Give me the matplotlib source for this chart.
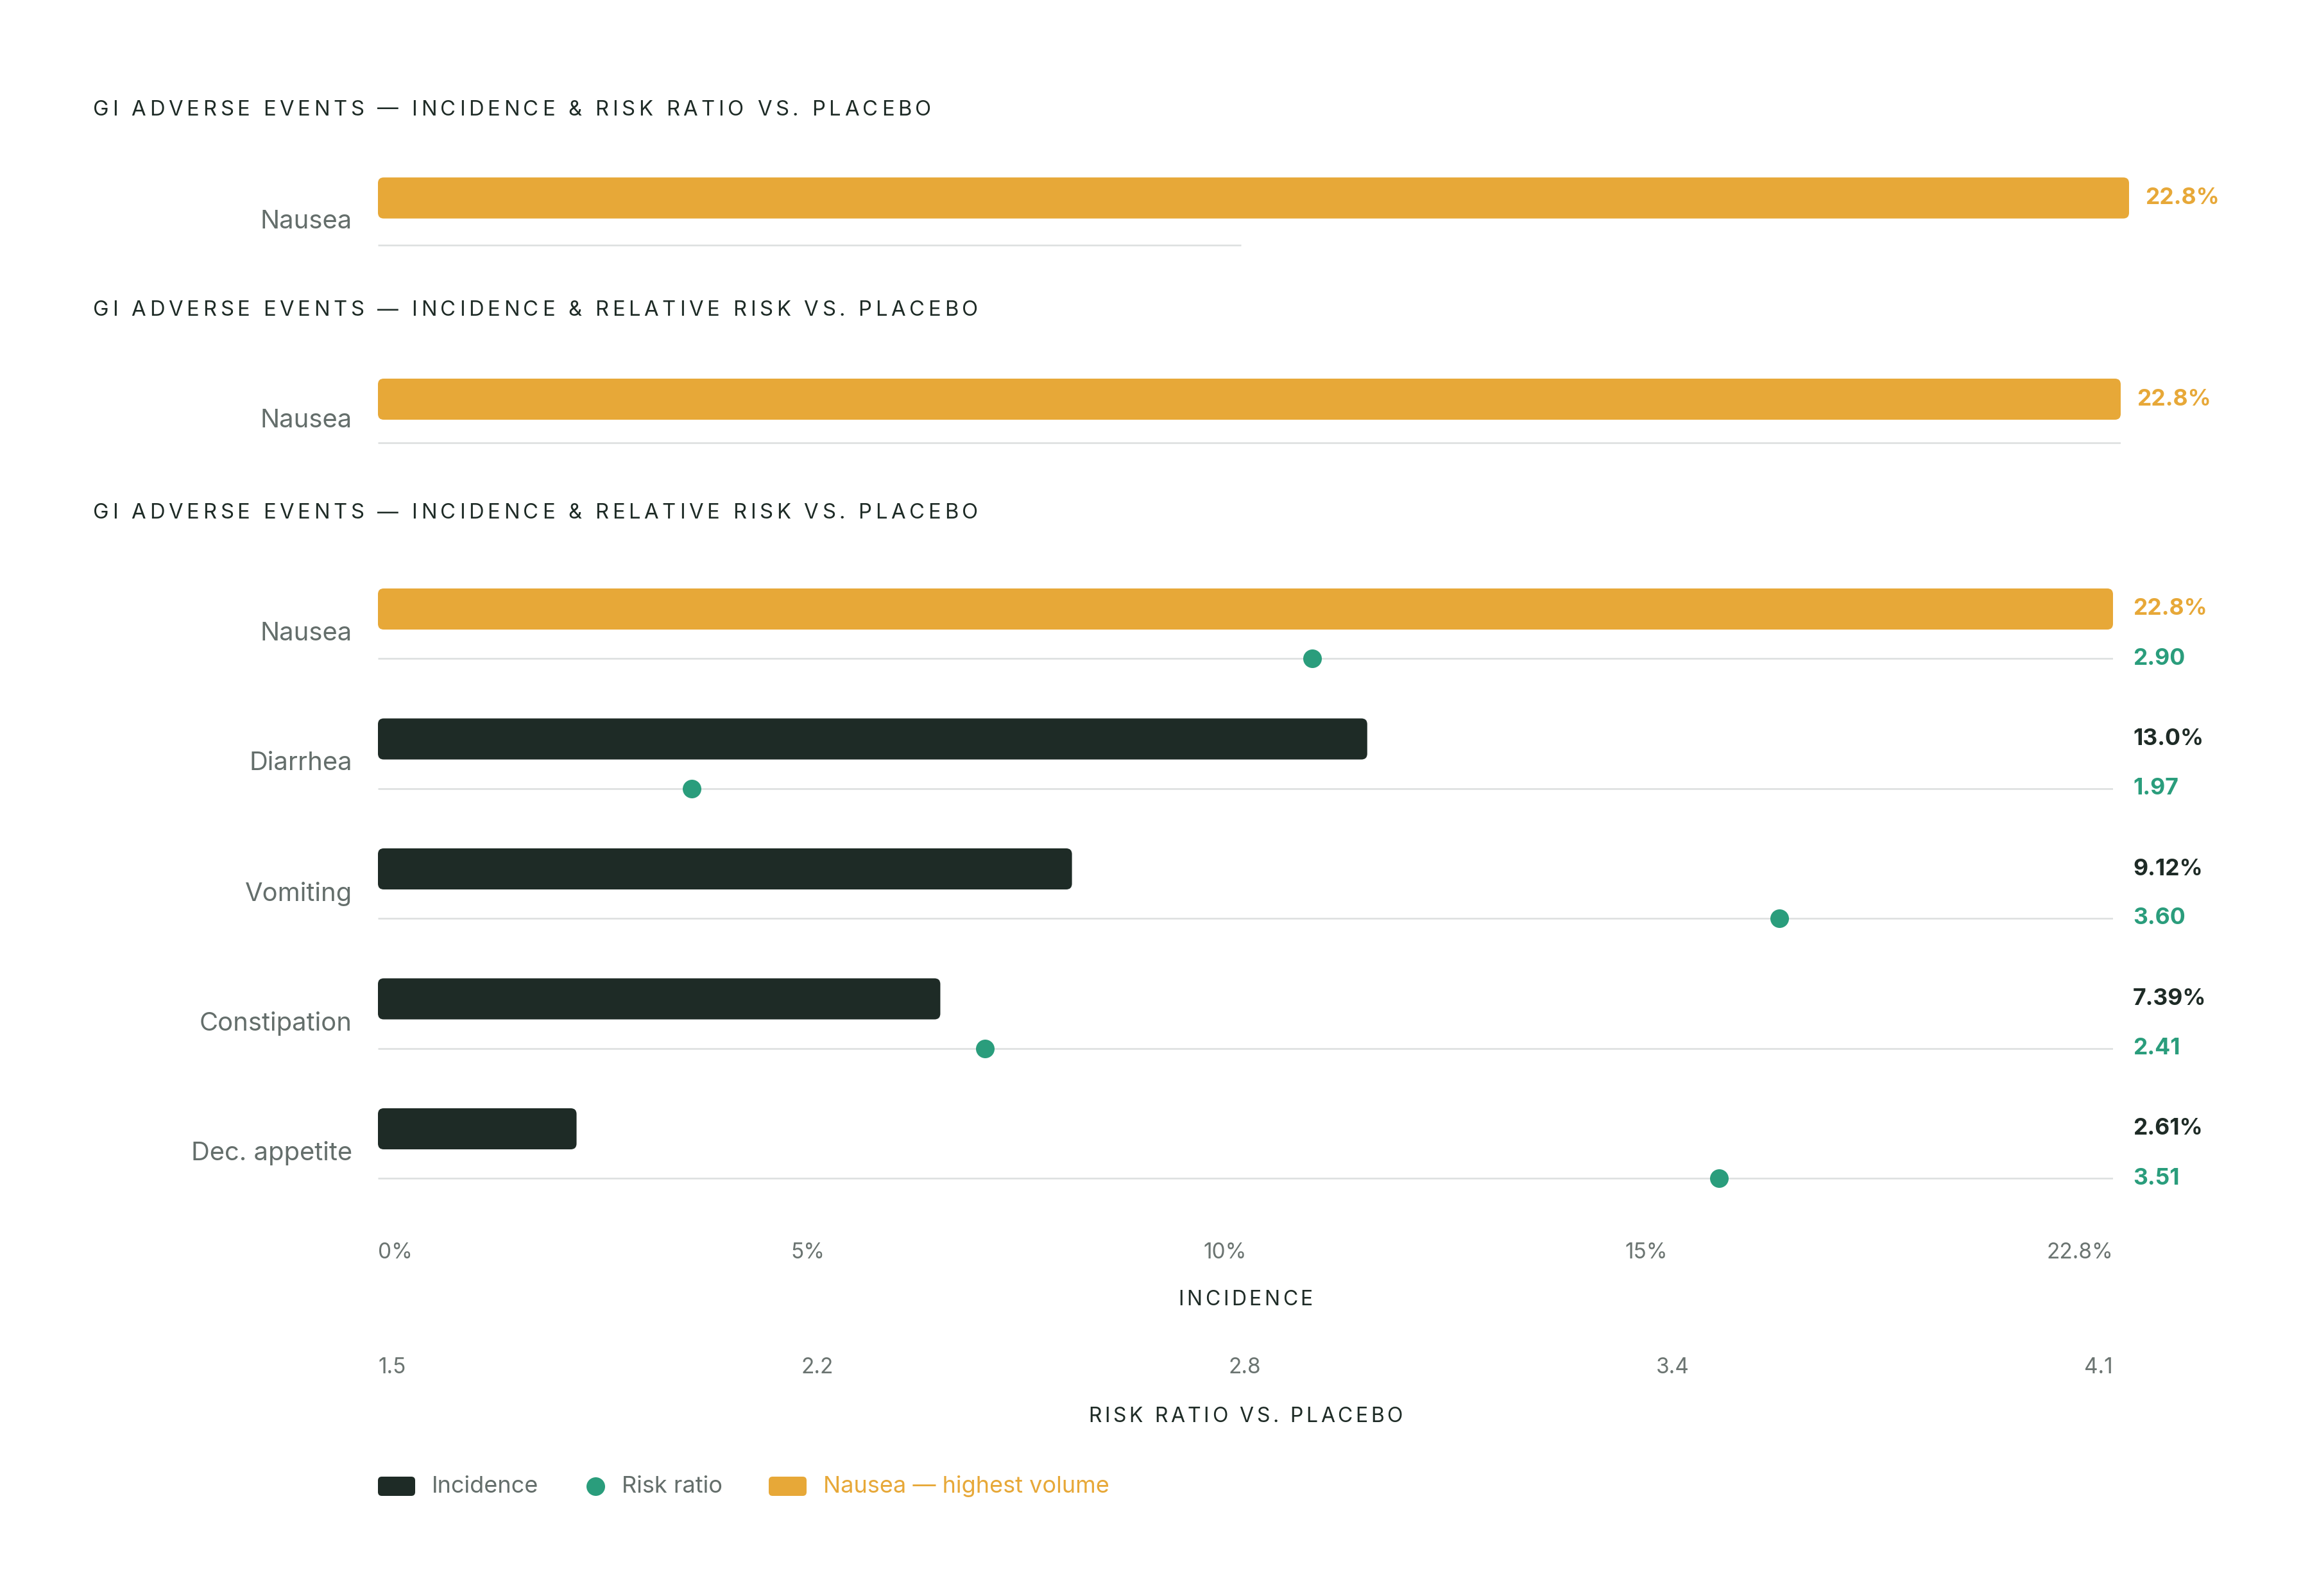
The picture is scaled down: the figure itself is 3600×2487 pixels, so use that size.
import matplotlib
matplotlib.use("Agg")
import matplotlib.pyplot as plt
from matplotlib.patches import FancyBboxPatch
from matplotlib.font_manager import FontProperties

# Données
EVENTS = ["Nausea", "Diarrhea", "Vomiting", "Constipation", "Dec. appetite"]
INCIDENCE = [22.8, 13.0, 9.12, 7.39, 2.61]   # %
RISK_RATIO = [2.90, 1.97, 3.60, 2.41, 3.51]  # vs. placebo
INC_MAX = 22.8
RR_MIN, RR_MAX = 1.5, 4.1
INC_TICK_LABELS = ["0%", "5%", "10%", "15%", "22.8%"]
RR_TICK_LABELS = ["1.5", "2.2", "2.8", "3.4", "4.1"]
TITLES = [
    "GI ADVERSE EVENTS — INCIDENCE & RISK RATIO VS. PLACEBO",
    "GI ADVERSE EVENTS — INCIDENCE & RELATIVE RISK VS. PLACEBO",
    "GI ADVERSE EVENTS — INCIDENCE & RELATIVE RISK VS. PLACEBO",
]
LEGEND_LABELS = ["Incidence", "Risk ratio", "Nausea — highest volume"]

# Couleurs
ORANGE = "#E7A838"
DARK = "#1E2B26"
GREEN = "#2A9D7C"
LABEL = "#646E6B"
TICK = "#6B7471"
GRID = "#DCDEDE"

FONT = "Inter"
plt.rcParams["font.family"] = [FONT, "DejaVu Sans"]

W, H, DPI = 3600, 2487, 200
LEFT = 589      # bord gauche des barres (px)
ROW = 202.5     # hauteur d'une ligne (px)
BAR_H = 64
RADIUS = 9

fig = plt.figure(figsize=(W / DPI, H / DPI), dpi=DPI)
fig.patch.set_facecolor("white")

# axe "calque" en pixels pour les textes libres
over = fig.add_axes([0, 0, 1, 1])
over.set_xlim(0, W)
over.set_ylim(H, 0)
over.axis("off")

renderer = fig.canvas.get_renderer()


def px2pt(p):
    return p * 72 / DPI


def text_w(s, fp):
    return renderer.get_text_width_height_descent(s, fp, ismath=False)[0]


def spaced_text(x, y, s, size, color, track, ha="left"):
    # texte avec espacement des lettres (letter-spacing)
    fp = FontProperties(family=FONT, size=size)
    xs = [text_w(s[:i + 1], fp) - text_w(ch, fp) + i * track for i, ch in enumerate(s)]
    total = xs[-1] + text_w(s[-1], fp)
    x0 = x - total / 2 if ha == "center" else x
    for xi, ch in zip(xs, s):
        if ch != " ":
            over.text(x0 + xi, y, ch, fontproperties=fp, color=color, ha="left", va="center")


def spread_labels(labels, x0, x1, y, size, color):
    # étiquettes réparties comme un "space-between"
    fp = FontProperties(family=FONT, size=size)
    widths = [text_w(l, fp) for l in labels]
    gap = (x1 - x0 - sum(widths)) / (len(labels) - 1)
    x = x0
    for l, w in zip(labels, widths):
        over.text(x, y, l, fontproperties=fp, color=color, ha="left", va="center")
        x += w + gap


def draw_panel(title, title_y, row0, right, n, line_off, line_frac, val_dx, with_risk):
    spaced_text(145, title_y, title, 11.8, DARK, 5.7)
    ax = fig.add_axes([LEFT / W, 1 - (row0 + (n - 0.5) * ROW) / H,
                       (right - LEFT) / W, n * ROW / H])
    ax.set_xlim(0, INC_MAX)
    ax.set_ylim(n - 0.5, -0.5)
    ax.axis("off")
    xpp = INC_MAX / (right - LEFT)
    ypp = 1 / ROW
    top = INCIDENCE.index(max(INCIDENCE))
    for i in range(n):
        c = ORANGE if i == top else DARK
        ax.add_patch(FancyBboxPatch((0, i - BAR_H / 2 * ypp), INCIDENCE[i], BAR_H * ypp,
                                    boxstyle=f"round,pad=0,rounding_size={RADIUS * xpp}",
                                    mutation_aspect=ypp / xpp, fc=c, ec="none", zorder=2))
        ly = i + line_off * ypp
        ax.plot([0, INC_MAX * line_frac], [ly, ly], color=GRID, lw=0.9,
                solid_capstyle="butt", zorder=1)
        ax.annotate(EVENTS[i], xy=(0, i + line_off / 2 * ypp), xycoords=("axes fraction", "data"),
                    xytext=(-px2pt(40), 0), textcoords="offset points",
                    ha="right", va="center", fontsize=14.4, color=LABEL)
        ax.annotate(f"{INCIDENCE[i]:#.3g}%", xy=(1, i), xycoords=("axes fraction", "data"),
                    xytext=(px2pt(val_dx), 0), textcoords="offset points",
                    ha="left", va="center", fontsize=12.8, fontweight="bold", color=c)
        if with_risk:
            ax.annotate(f"{RISK_RATIO[i]:.2f}", xy=(1, ly), xycoords=("axes fraction", "data"),
                        xytext=(px2pt(val_dx), 0), textcoords="offset points",
                        ha="left", va="center", fontsize=12.8, fontweight="bold", color=GREEN)
    if with_risk:
        ax2 = ax.twiny()
        ax2.set_xlim(RR_MIN, RR_MAX)
        ax2.axis("off")
        ax2.plot(RISK_RATIO[:n], [i + line_off * ypp for i in range(n)], "o",
                 ms=px2pt(29), color=GREEN, mec="none", zorder=3)
    return ax


# trois panneaux
draw_panel(TITLES[0], 171, 308.5, 3318, 1, 73.5, 0.493, 25, False)
draw_panel(TITLES[1], 484, 622, 3305, 1, 68, 1.0, 25, False)
draw_panel(TITLES[2], 800, 949, 3293, len(EVENTS), 77, 1.0, 31, True)

# axes du bas
RIGHT3 = 3293
spread_labels(INC_TICK_LABELS, LEFT, RIGHT3, 1952, 12, TICK)
spaced_text((LEFT + RIGHT3) / 2, 2026, "INCIDENCE", 11.5, DARK, 4.6, ha="center")
spread_labels(RR_TICK_LABELS, LEFT, RIGHT3, 2131, 12, TICK)
spaced_text((LEFT + RIGHT3) / 2, 2207, "RISK RATIO VS. PLACEBO", 11.5, DARK, 4.6, ha="center")

# légende
over.add_patch(FancyBboxPatch((589, 2301), 58, 30, boxstyle="round,pad=0,rounding_size=6",
                              fc=DARK, ec="none"))
over.text(673, 2316, LEGEND_LABELS[0], fontsize=13.0, color=LABEL, va="center")
over.plot([928], [2316], "o", ms=px2pt(29), color=GREEN, mec="none")
over.text(969, 2316, LEGEND_LABELS[1], fontsize=13.0, color=LABEL, va="center")
over.add_patch(FancyBboxPatch((1198, 2301), 59, 30, boxstyle="round,pad=0,rounding_size=6",
                              fc=ORANGE, ec="none"))
over.text(1283, 2316, LEGEND_LABELS[2], fontsize=13.0, color=ORANGE, va="center")

fig.savefig("out.png", dpi=DPI, facecolor="white")
